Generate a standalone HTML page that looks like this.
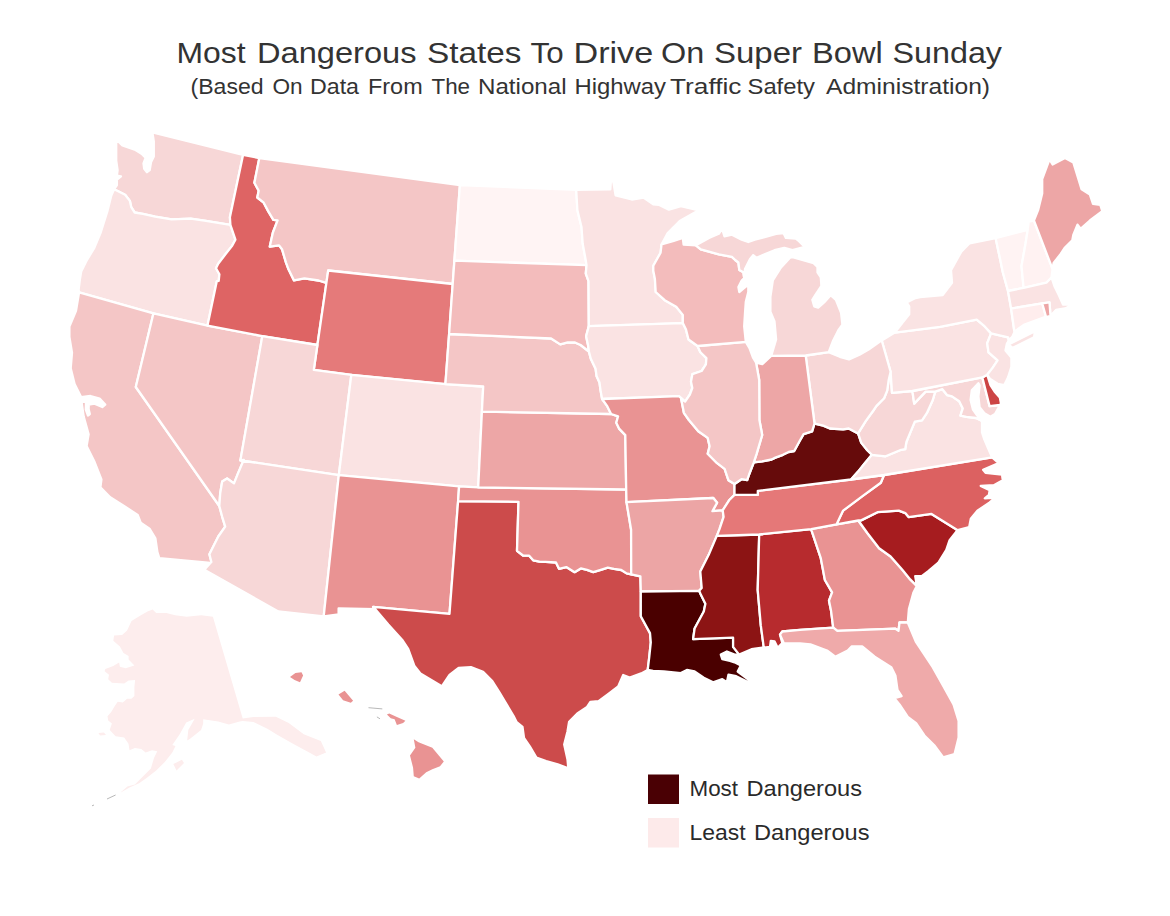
<!DOCTYPE html>
<html><head><meta charset="utf-8"><style>
html,body{margin:0;padding:0;background:#fff;}
body{width:1170px;height:916px;overflow:hidden;position:relative;font-family:"Liberation Sans",sans-serif;}
svg{position:absolute;left:0;top:0;}
</style></head><body>
<svg width="1170" height="916" viewBox="0 0 1170 916">
<rect width="1170" height="916" fill="#fff"/>
<g fill="#333" font-family="Liberation Sans, sans-serif">
<text x="176.50" y="62.6" font-size="30" textLength="69.06" lengthAdjust="spacingAndGlyphs">Most</text>
<text x="257.00" y="62.6" font-size="30" textLength="159.57" lengthAdjust="spacingAndGlyphs">Dangerous</text>
<text x="427.00" y="62.6" font-size="30" textLength="94.54" lengthAdjust="spacingAndGlyphs">States</text>
<text x="530.50" y="62.6" font-size="30" textLength="33.08" lengthAdjust="spacingAndGlyphs">To</text>
<text x="573.50" y="62.6" font-size="30" textLength="79.70" lengthAdjust="spacingAndGlyphs">Drive</text>
<text x="661.00" y="62.6" font-size="30" textLength="43.25" lengthAdjust="spacingAndGlyphs">On</text>
<text x="714.00" y="62.6" font-size="30" textLength="88.04" lengthAdjust="spacingAndGlyphs">Super</text>
<text x="812.00" y="62.6" font-size="30" textLength="70.72" lengthAdjust="spacingAndGlyphs">Bowl</text>
<text x="892.50" y="62.6" font-size="30" textLength="109.51" lengthAdjust="spacingAndGlyphs">Sunday</text>
<text x="190.50" y="93.9" font-size="22" textLength="73.10" lengthAdjust="spacingAndGlyphs">(Based</text>
<text x="272.50" y="93.9" font-size="22" textLength="30.17" lengthAdjust="spacingAndGlyphs">On</text>
<text x="310.00" y="93.9" font-size="22" textLength="49.05" lengthAdjust="spacingAndGlyphs">Data</text>
<text x="368.00" y="93.9" font-size="22" textLength="54.66" lengthAdjust="spacingAndGlyphs">From</text>
<text x="431.50" y="93.9" font-size="22" textLength="38.57" lengthAdjust="spacingAndGlyphs">The</text>
<text x="478.00" y="93.9" font-size="22" textLength="88.57" lengthAdjust="spacingAndGlyphs">National</text>
<text x="574.50" y="93.9" font-size="22" textLength="91.53" lengthAdjust="spacingAndGlyphs">Highway</text>
<text x="670.00" y="93.9" font-size="22" textLength="71.51" lengthAdjust="spacingAndGlyphs">Traffic</text>
<text x="747.50" y="93.9" font-size="22" textLength="67.51" lengthAdjust="spacingAndGlyphs">Safety</text>
<text x="826.00" y="93.9" font-size="22" textLength="164.00" lengthAdjust="spacingAndGlyphs">Administration)</text>
</g>
<g stroke="#fff" stroke-width="2.3" stroke-linejoin="round">
<path fill="#f7d7d7" d="M152.4 132.5L243.1 154.8L229.9 217.2L230.4 224.8L204.4 220.7L190.7 218.7L171.6 219.4L155.2 216.6L142.9 213.9L134.7 212.5L131.2 207.1L129.9 200.9L125.1 194.7L114.1 189.3L116.9 185.2L116.9 179.7L121 176.3L116.9 175.6L117.6 170.1L116.2 160.6L116.2 139.4L122.4 145.5L134.7 149.6L141.5 153.7L145.6 157.8L143.5 163.3L144.2 168.8L147 172.2L149.7 170.1L151.1 161.9L153.8 156.5L153.8 141.4Z"/>
<path fill="#fae3e3" d="M114.1 189.3L125.1 194.7L129.9 200.9L131.2 207.1L134.7 212.5L142.9 213.9L155.2 216.6L171.6 219.4L190.7 218.7L204.4 220.7L230.4 224.8L235.4 239.7L231.9 246.1L225.8 253.8L218.2 263.7L216 268.3L219.4 274.2L218.7 280.9L216.8 281.3L207.5 325.6L153.4 313.4L79.1 292.4L78.6 289.8L79.9 279.3L81.2 271.5L86.4 261L94.3 247.9L100.8 232.2L107.4 211.2L111.3 195.5Z"/>
<path fill="#f4c6c6" d="M79.1 292.4L153.4 313.4L135.8 387L219.3 506L222.2 516.8L225.2 526.7L218.3 536.5L213.4 546.3L209.4 554.2L211.4 562L210.4 563L159.3 558.1L157.4 552.2L155.4 538.4L149.5 528.6L140.7 522.7L137.7 514.9L124 506L110.2 497.2L100.4 487.4L101.4 479.5L94.5 461.8L86.6 446.1L88.6 434.3L83.7 416.6L82.7 410L81.5 401.5L86 401.8L85.8 409.5L88 415.5L89.8 414L88.6 409L88.8 404.6L94.5 403.6L102.3 407L105.2 404.6L99.6 398.6L90.5 396L81.2 397.2L74.6 384.1L70.7 368.4L72 352.7L69.4 337L69.4 326.5L76 310.8Z"/>
<path fill="#f4c6c6" d="M153.4 313.4L207.5 325.6L262.3 336.1L240.4 460.4L243.8 459.8L237.9 473.6L234 483.4L227.1 478.5L222.2 481.5L220.2 493.3L219.3 506L135.8 387Z"/>
<path fill="#de6464" d="M243.1 154.8L259.3 158.1L254.4 182.8L258.7 190.7L257.3 197.5L263.7 202.7L268.3 211.4L273.4 219.9L277.6 220.4L272.9 232.5L269.8 246.6L279.1 245.4L282 249.2L286 262.6L288.5 269.3L294 280.4L304.4 278.3L318.6 280.5L326.4 282.9L317.4 345L262.3 336.1L207.5 325.6L216.8 281.3L218.7 280.9L219.4 274.2L216 268.3L218.2 263.7L225.8 253.8L231.9 246.1L235.4 239.7L230.4 224.8L229.9 217.2Z"/>
<path fill="#f4c6c6" d="M259.3 158.1L459.9 185.1L454.4 260.7L452.7 284L328.2 270.5L326.4 282.9L318.6 280.5L304.4 278.3L294 280.4L288.5 269.3L286 262.6L282 249.2L279.1 245.4L269.8 246.6L272.9 232.5L277.6 220.4L273.4 219.9L268.3 211.4L263.7 202.7L257.3 197.5L258.7 190.7L254.4 182.8Z"/>
<path fill="#e57a7a" d="M326.4 282.9L328.2 270.5L452.7 284L449.1 334L445.4 384.2L351.3 374.9L313.8 369.9L317.4 345Z"/>
<path fill="#f7d7d7" d="M262.3 336.1L317.4 345L313.8 369.9L351.3 374.9L338.8 475.2L240.4 460.4Z"/>
<path fill="#fae3e3" d="M351.3 374.9L445.4 384.2L483.2 386.5L481.9 411.7L478.2 487.4L459.1 486.4L338.8 475.2Z"/>
<path fill="#f7d7d7" d="M240.4 460.4L338.8 475.2L323.7 616.3L278.3 611.5L204.3 569.7L210.4 563L211.4 562L209.4 554.2L213.4 546.3L218.3 536.5L225.2 526.7L222.2 516.8L219.3 506L220.2 493.3L222.2 481.5L227.1 478.5L234 483.4L237.9 473.6L243.8 459.8Z"/>
<path fill="#e99393" d="M338.8 475.2L459.1 486.4L458.1 501.2L449.5 613.8L373.1 606.9L375.3 609.2L338.6 608.5L338.6 614.5L323.7 616.3Z"/>
<path fill="#cc4b4b" d="M458.1 501.2L518.5 501.8L517 550.8L523 555.5L529.2 555.7L533.2 560.3L539.4 561.7L545.6 561.8L556 562.5L559 568.8L566.3 567.1L574.6 572.2L580.8 568.4L587 569.9L593.3 572.2L601.6 569.6L607.8 567.7L614 568.9L621.3 570L626.6 573.4L631.2 574.3L640.4 576.3L640.8 591.5L640.8 616.2L650 633.1L650.8 642.3L649.2 657.7L647.7 670L641.2 673.4L629.7 677.5L623.2 675L620.7 680.8L618.2 686.5L608.4 693.9L598.6 701.2L590.4 702L587.1 707L577.3 713.5L569.1 721.7L567.5 731.5L564.2 744.6L567.5 759.4L568.3 768.4L557.7 764.3L546.2 761L536.4 757.7L529.8 746.3L524 738L522.5 727L516.7 722.2L513.6 716.1L504.5 700.9L499.9 693.2L492.3 681L483.1 671.8L470.9 667.2L458.6 668L449.5 674.9L441.8 686.3L420.4 673.4L414.3 665.7L408.2 648.9L402.1 639.7L388.3 624.5L375.3 609.2L373.1 606.9L449.5 613.8Z"/>
<path fill="#e99393" d="M459.1 486.4L478.2 487.4L626.2 489.5L626.5 502.1L631.1 529.8L631.2 574.3L626.6 573.4L621.3 570L614 568.9L607.8 567.7L601.6 569.6L593.3 572.2L587 569.9L580.8 568.4L574.6 572.2L566.3 567.1L559 568.8L556 562.5L545.6 561.8L539.4 561.7L533.2 560.3L529.2 555.7L523 555.5L517 550.8L518.5 501.8L458.1 501.2Z"/>
<path fill="#eda6a6" d="M481.9 411.7L611.1 414L618.1 416.3L616.3 422.7L619.3 428.9L625.3 435.1L626.2 489.5L478.2 487.4Z"/>
<path fill="#f4c6c6" d="M449.1 334L551.1 338.5L560.3 344.4L567.7 342.4L575 342.5L580.6 345L588.9 351.5L590.8 358.8L595.6 368.8L596.6 376.3L599.5 382.6L600.5 390.1L602.1 399L607.4 406.4L611.1 414L481.9 411.7L483.2 386.5L445.4 384.2Z"/>
<path fill="#fff4f4" d="M459.9 185.1L576.2 189.9L577.4 210.3L581.5 227L582.7 243.8L585.7 260L586.5 265.1L454.4 260.7Z"/>
<path fill="#f3bcbc" d="M454.4 260.7L586.5 265.1L585.8 273.6L588.5 281.1L588.8 326.1L586.1 336.2L588 344.9L588.9 351.5L580.6 345L575 342.5L567.7 342.4L560.3 344.4L551.1 338.5L449.1 334L452.7 284Z"/>
<path fill="#fae3e3" d="M576.2 189.9L610.3 189.3L610.9 180.9L613.3 181.5L615.6 195.3L631.8 199.5L643.8 197.7L653.3 204.3L659.3 204.9L668.9 209.7L680.9 206.1L698.8 210.3L679.7 221L667.7 233L661.5 244.5L660.6 252.7L653.3 265.8L653.3 270.7L654.9 278.9L655.7 292L664.7 300.2L676.2 306.7L682.8 314.9L682.8 323.1L588.8 326.1L588.5 281.1L585.8 273.6L586.5 265.1L585.7 260L582.7 243.8L581.5 227L577.4 210.3Z"/>
<path fill="#fae3e3" d="M588.8 326.1L682.8 323.1L686 329.6L688.5 339.5L697.5 346L700.4 352.2L706.4 358.1L705.9 364.4L701.6 371L692.4 374.1L691 381.8L692.3 388L689.9 394.5L685.1 401.6L678.9 396.1L602.1 399L600.5 390.1L599.5 382.6L596.6 376.3L595.6 368.8L590.8 358.8L588.9 351.5L588 344.9L586.1 336.2Z"/>
<path fill="#e99393" d="M602.1 399L678.9 396.1L685.1 401.6L681.2 399.1L683.9 412.8L688.9 420L698.3 431.3L707.7 437.9L709.6 446.3L707.7 453.8L717.1 463.2L724.6 468.9L728.4 480.2L734.5 484L734.5 494.9L729.1 500.3L722.7 510.3L712.4 511.2L717.1 502.7L713.3 498L626.5 502.1L626.2 489.5L625.3 435.1L619.3 428.9L616.3 422.7L618.1 416.3L611.1 414L607.4 406.4Z"/>
<path fill="#eca5a5" d="M626.5 502.1L713.3 498L717.1 502.7L712.4 511.2L722.7 510.3L723.6 516.8L719.5 529.1L716.8 535.9L708.6 555.1L700.3 571.5L701.7 587.9L699.2 590.8L640.8 591.5L640.4 576.3L631.2 574.3L631.1 529.8Z"/>
<path fill="#4a0000" d="M640.8 591.5L699.2 590.8L700.8 594.6L705.4 603.8L703.8 611.5L694.6 628.5L693.1 639.2L733.1 637.7L733.1 646.9L739.2 654.6L734.6 654.6L726.9 651.5L720.8 654.6L722.3 659.2L730 660.8L734.6 662.3L740.8 665.4L737.7 671.5L750 680.8L748.5 682.3L736.2 676.2L728.5 674.6L726.9 682.3L722.3 679.2L713.1 682.3L703.8 677.7L694.6 671.5L686.9 670L680.8 673.1L663.8 671.5L653.1 670.8L647.7 670L649.2 657.7L650.8 642.3L650 633.1L640.8 616.2Z"/>
<path fill="#8c1414" d="M716.8 535.9L759.2 534.5L757.7 590L760.8 625.4L763.8 647.7L762.3 647.7L751.5 649.2L739.2 654.6L733.1 646.9L733.1 637.7L693.1 639.2L694.6 628.5L703.8 611.5L705.4 603.8L700.8 594.6L699.2 590.8L701.7 587.9L700.3 571.5L708.6 555.1Z"/>
<path fill="#b72b2e" d="M759.2 534.5L811.1 529.1L820.7 557.8L824.9 580L832.1 592.4L829 600.7L831.1 611.1L833.2 627.7L800 629.8L782.3 631.5L780 634.6L782.3 643.1L777.7 647.7L774.6 641.5L770.8 640.8L770 646.9L763.8 647.7L760.8 625.4L757.7 590Z"/>
<path fill="#e99393" d="M811.1 529.1L836.6 524.3L858.3 520.5L867.7 533.5L879.1 548.3L890.6 556.5L902.1 569.6L910.2 579.4L916.8 585.9L913.5 592.4L908.9 609L907.8 622.5L899.5 622.5L898.5 630.8L895.4 628.7L837.3 630.8L833.2 627.7L831.1 611.1L829 600.7L832.1 592.4L824.9 580L820.7 557.8Z"/>
<path fill="#efaaaa" d="M780 634.6L782.3 631.5L800 629.8L833.2 627.7L837.3 630.8L895.4 628.7L898.5 630.8L899.5 622.5L907.8 622.5L916.1 642.2L932.7 667.1L943.1 685.8L953.5 704.4L958.6 721L958.6 737.6L954.5 754.2L943.1 757.3L934.8 745.9L924.4 735.5L916.1 723.1L907.8 716.9L899.5 704.4L894.4 698.2L901.6 696.1L897.5 689.9L895.4 675.4L891.2 667.1L874.7 656.7L862.2 646.4L851.8 646.4L847.7 650.5L835.3 656.7L827 650.5L810.4 644.3L800 643.3L783.8 643.1Z"/>
<path fill="#a61c1f" d="M858.3 520.5L861.1 520.4L877.5 512.2L898.8 510.6L905.3 513.1L908.6 517.1L931.5 513.9L957.7 530.2L956.1 531.9L949.6 540.1L946.3 549.9L938.1 563L928.3 571.2L921.7 576.1L915.2 576.1L916.8 585.9L910.2 579.4L902.1 569.6L890.6 556.5L879.1 548.3L867.7 533.5Z"/>
<path fill="#dc6161" d="M884 475L992.1 457.4L998.7 463.1L983.1 469.7L985.6 472.9L1002 474.6L1002.8 480.3L993.8 485.2L980.7 486L989.7 490.1L988.9 495L984.8 498.3L995.4 497.5L989.7 502.4L977.4 510.6L970.8 518.8L969.2 527L957.7 530.2L931.5 513.9L908.6 517.1L905.3 513.1L898.8 510.6L877.5 512.2L861.1 520.4L858.3 520.5L836.6 524.3L843.1 510.6L862.8 495.9L880.8 482.8Z"/>
<path fill="#e57878" d="M734.5 494.9L757.8 494.9L757.8 490.8L851 479.5L884 475L880.8 482.8L862.8 495.9L843.1 510.6L836.6 524.3L811.1 529.1L759.2 534.5L716.8 535.9L719.5 529.1L723.6 516.8L722.7 510.3L729.1 500.3Z"/>
<path fill="#660b0b" d="M734.5 484L741.5 479.2L747.2 480.2L749.1 474.5L753.8 462.3L762.2 461.4L771.6 459.5L775.4 457.6L782.9 454.8L788.6 452L794.2 451L799.8 440.7L803.6 434.1L812.1 431.3L814.5 423.5L815.8 423.8L823.3 425.6L829.9 428.5L843.1 429.4L848.7 428.5L858.1 433.4L861.2 442.6L867.3 450.2L871.9 454.8L864.2 464L858.1 471.6L851 479.5L757.8 490.8L757.8 494.9L734.5 494.9Z"/>
<path fill="#fae3e3" d="M851 479.5L858.1 471.6L864.2 464L871.9 454.8L885.6 456.3L900 450.2L905.2 449.2L906.4 442L914.8 421.6L922 420.4L926.8 413.2L932.8 400L935.2 391.6L942.4 389.2L947.2 395.2L952 396.4L959.2 401.2L962.8 408.4L960.4 415.6L966.4 416.8L976 418L982 421L982 432.4L984.4 439.6L988 448L992.1 457.4L884 475Z"/>
<path fill="#f7d7d7" d="M890.6 371.7L888.7 379.9L887.2 390.6L884.1 398.2L876.5 405.9L873.4 410.5L865.7 421.2L858.1 433.4L861.2 442.6L867.3 450.2L871.9 454.8L885.6 456.3L900 450.2L905.2 449.2L906.4 442L914.8 421.6L922 420.4L926.8 413.2L932.8 400L935.2 391.6L925.6 391.6L914.2 403.6L912.4 391L892 392.8Z"/>
<path fill="#f7d7d7" d="M912.4 391L982.3 377.4L989.6 406.2L1000 405L995 414L990.4 416.8L984.4 413.2L979.6 407.2L978.4 396.4L979.6 385.6L978.4 383.2L971.8 390.4L970.6 400L973 409.6L977.2 415.6L982 421L976 418L966.4 416.8L960.4 415.6L962.8 408.4L959.2 401.2L952 396.4L947.2 395.2L942.4 389.2L935.2 391.6L925.6 391.6L914.2 403.6Z"/>
<path fill="#cc4444" d="M982.3 377.4L987.2 374.7L990.5 385.2L994.5 391.5L999.8 397.4L1001 403.5L1000 405L989.6 406.2Z"/>
<path fill="#fae3e3" d="M982.3 377.4L912.4 391L892 392.8L890.6 371.7L881.7 340.4L894.8 332.6L940 326.9L976.7 319.7L984.5 326.2L991.1 333.4L987.2 343.2L988.5 352.4L997.6 360.3L992.4 368.1L987.2 374.7Z"/>
<path fill="#fae3e3" d="M991.1 333.4L1008.1 337.3L1008.8 340.6L1006.8 343.9L1005.5 350.4L1011.4 357.6L1011.4 366.8L1008.1 377.3L1004.2 385.2L997.6 383.8L989.8 378.6L987.2 374.7L992.4 368.1L997.6 360.3L988.5 352.4L987.2 343.2Z"/>
<path fill="#fae3e3" d="M894.8 332.6L904 320.8L909.2 314.2L909.2 306.3L906.6 302.4L914.5 298.5L920 297.2L942.7 295.1L952 282.7L951 270.3L961.3 251.6L969.6 243.3L995.6 238.1L1000.7 262L1002.8 272.3L1008 291L1011.1 308.6L1014.2 330.4L1014.7 331.4L1012.5 336.5L1010.5 338.5L1008.8 340.6L1008.1 337.3L991.1 333.4L984.5 326.2L976.7 319.7L940 326.9Z"/>
<path fill="#fff3f3" d="M1008 291L1023.6 287.9L1021.5 266.1L1025.6 243.3L1027.7 229.8L995.6 238.1L1000.7 262L1002.8 272.3Z"/>
<path fill="#fff2f2" d="M1023.6 287.9L1046.4 282.7L1051.5 277.5L1052.6 269.2L1033.9 220.5L1028.7 221.5L1027.7 229.8L1025.6 243.3L1021.5 266.1Z"/>
<path fill="#eda6a6" d="M1052.6 269.2L1053.6 263L1060.9 253.7L1065 247.5L1072.3 240.2L1073.3 235L1077.5 224.6L1080.6 228.8L1089.9 220.5L1102.3 211.2L1100.3 204.9L1093 203.9L1089.9 194.6L1081.6 189.4L1073.3 162.4L1065 157.9L1052.6 164.5L1049.5 159.3L1042.2 179L1042.2 193.5L1038.1 210.1L1033.9 220.5Z"/>
<path fill="#fae3e3" d="M1011.1 308.6L1008 291L1023.6 287.9L1046.4 282.7L1051.5 277.5L1054.7 286.8L1058.8 295.1L1063 304.5L1069.2 304.5L1075.4 299.3L1072 305L1065 308.5L1056 310L1050.5 315.9L1049.5 302.4L1042.2 303.4Z"/>
<path fill="#ffeded" d="M1042.2 303.4L1011.1 308.6L1014.2 330.4L1014.7 331.4L1023.8 324.9L1044.8 317L1046.1 317Z"/>
<path fill="#eda6a6" d="M1042.2 303.4L1049.5 302.4L1050.5 315.9L1046.1 317Z"/>
<path fill="#f7d7d7" d="M881.7 340.4L868.6 349.6L859.5 354.8L849 359.4L839.8 356.8L828.7 352.2L805.7 355.5L814.5 423.5L815.8 423.8L823.3 425.6L829.9 428.5L843.1 429.4L848.7 428.5L858.1 433.4L865.7 421.2L873.4 410.5L876.5 405.9L884.1 398.2L887.2 390.6L888.7 379.9L890.6 371.7Z"/>
<path fill="#eda6a6" d="M814.5 423.5L805.7 355.5L771.2 355.8L762.3 364.2L756.1 362.7L759.2 380L759.4 420L762.2 435L756.6 453.8L753.8 462.3L762.2 461.4L771.6 459.5L775.4 457.6L782.9 454.8L788.6 452L794.2 451L799.8 440.7L803.6 434.1L812.1 431.3Z"/>
<path fill="#f4c6c6" d="M756.1 362.7L753.2 358L749.5 348.2L745.8 341.9L697.5 346L700.4 352.2L706.4 358.1L705.9 364.4L701.6 371L692.4 374.1L691 381.8L692.3 388L689.9 394.5L685.1 401.6L681.2 399.1L683.9 412.8L688.9 420L698.3 431.3L707.7 437.9L709.6 446.3L707.7 453.8L717.1 463.2L724.6 468.9L728.4 480.2L734.5 484L741.5 479.2L747.2 480.2L749.1 474.5L753.8 462.3L756.6 453.8L762.2 435L759.4 420L759.2 380Z"/>
<path fill="#f3bcbc" d="M697.5 346L745.8 341.9L744.2 326.4L745 313.3L745.8 301.8L748.3 292L748.3 284.6L743.4 288.7L739.3 292L738.4 287.1L741.7 280.5L744.2 278.1L743.4 272.3L739.3 269.9L738.4 262.5L735.2 260L731.9 256.8L718.8 254.3L700.8 249.4L695.9 245.3L683.6 244.5L682.8 237.9L672.9 241.2L661.5 244.5L660.6 252.7L653.3 265.8L653.3 270.7L654.9 278.9L655.7 292L664.7 300.2L676.2 306.7L682.8 314.9L682.8 323.1L686 329.6L688.5 339.5Z"/>
<path fill="#f7d7d7" d="M771.2 355.8L776.1 339.5L774.5 321.5L770.4 311.6L770.4 296.9L772.8 280.5L781 267.4L790 257.6L792.6 257.2L813.6 263.1L817.5 267L817.5 272.3L820.8 277.5L821.4 286L815.6 294.6L812.3 299.8L814.2 306.3L818.2 307.7L824.1 302.4L830.6 295.2L835.9 299.8L841.1 312.9L842.4 324.7L838.5 329.9L833.2 340.4L828.7 352.2L805.7 355.5Z"/>
<path fill="#f7d7d7" d="M695.9 245.3L709 237.9L718.8 233.8L722.1 228.9L724.5 236.3L731.9 234.7L741.7 239.6L748.3 242L754.8 239.6L764.6 237.1L776.1 233.8L783.5 233L785.9 237.9L795.8 238.7L799 241.2L804.8 246.9L792.5 250.2L784.3 247.8L774.5 250.2L764.6 254.3L756.5 257.9L753.2 255.1L749.9 259.2L745 269L744.2 278.1L743.4 272.3L739.3 269.9L738.4 262.5L735.2 260L731.9 256.8L718.8 254.3L700.8 249.4Z"/>
<path fill="#fae3e3" stroke="none" d="M1010.5 344.8L1022 339L1033.5 333.3L1033 336.6L1022 342L1012.8 346.6Z"/>
<path fill="#fdeded" stroke="none" d="M152.6 609.4L147.5 611.6L140.9 615.3L131.5 621.1L127.1 630.5L122.1 634.9L114.1 635.6L113.3 640.7L119.9 646.5L123.5 653L128.6 655.9L128.6 659.6L134.4 665.4L125.7 668.3L119.9 666.8L119.1 662.5L113.3 666.1L105.3 669L104.6 671.2L109 674.8L108.2 679.2L111.9 682.8L124.2 683.6L128.6 680.6L135.1 679.9L134.4 687.2L134.4 695.9L131.5 698.8L127.1 698.8L122.8 702.4L117.7 701.7L114.8 706.1L111.2 711.9L107.5 716.2L108.2 720.6L111.9 723.5L109.7 730L115.6 736.3L124.2 737.4L128.5 743.8L129.5 750.2L134.9 748.1L141.3 749.1L145.6 752.4L152 750.2L157.3 751.3L154.1 757.7L150.9 768.4L142.4 776.9L134.9 784.4L127.4 786.5L119.9 793L129.5 787.6L139.1 783.3L146.6 778L156.2 770.5L164.8 762L172.3 752.4L175.5 745.9L172.3 744.9L179.7 734.2L186.2 722.4L194.7 718.8L188.3 729.9L187.2 740.6L190.4 738.5L201.1 729.9L203.2 723.5L203.2 719.2L218.2 721.4L228.9 724.6L239.6 721.4L242.8 721L253.5 722L267.4 728.8L278 735.3L293 743.8L306.9 751.3L316.5 756.6L326.1 752.4L320.8 741L303.7 734.2L288.7 723.1L275.9 716.7L253.5 717.1L242.7 718.4L212.9 616.7L201.2 615.3L186.7 616.7L175.1 615.3L166.4 613.1L156.2 613.1ZM173.3 764.1L181.9 759.8L184 763L176.5 770.5ZM98.5 733L104 732.5L106 735L100 735.5Z"/>
<path fill="#e99393" stroke="none" d="M290 676.9L295.4 673.1L301.5 672.3L303.1 675.4L300 682.3L294.6 680ZM338.5 694.6L344.6 690.8L353.1 700.8L350.8 702.8L343.1 700.3ZM386.9 714.6L389.2 713.5L396.9 716.9L405.4 720.8L403.1 723.1L396.9 724.9L394.6 719.2L390.8 718.2ZM413.8 739.2L418.5 742.3L432.3 747.7L443.8 761.5L440 766.2L432.3 769.2L426.2 772.3L419.2 778.5L413.8 776.2L413.1 767.7L410 755.4L415.4 747.7Z"/>
<path fill="none" stroke="#999" stroke-width="0.7" d="M368.5 707.7L382.3 708.9M376.9 716.9L380 718.8M107 799L115.6 795M92 805.8L94 805"/>

</g>
<rect x="648" y="774.5" width="31" height="29.5" fill="#4a0004"/>
<rect x="648" y="818" width="31" height="29.5" fill="#fdeaea"/>
<g fill="#2a2a2a" font-family="Liberation Sans, sans-serif">
<text x="689.50" y="796.4" font-size="22" textLength="48.53" lengthAdjust="spacingAndGlyphs">Most</text>
<text x="746.50" y="796.4" font-size="22" textLength="115.56" lengthAdjust="spacingAndGlyphs">Dangerous</text>
<text x="689.50" y="840.3" font-size="22" textLength="56.03" lengthAdjust="spacingAndGlyphs">Least</text>
<text x="754.00" y="840.3" font-size="22" textLength="115.55" lengthAdjust="spacingAndGlyphs">Dangerous</text>
</g>
</svg>
</body></html>
